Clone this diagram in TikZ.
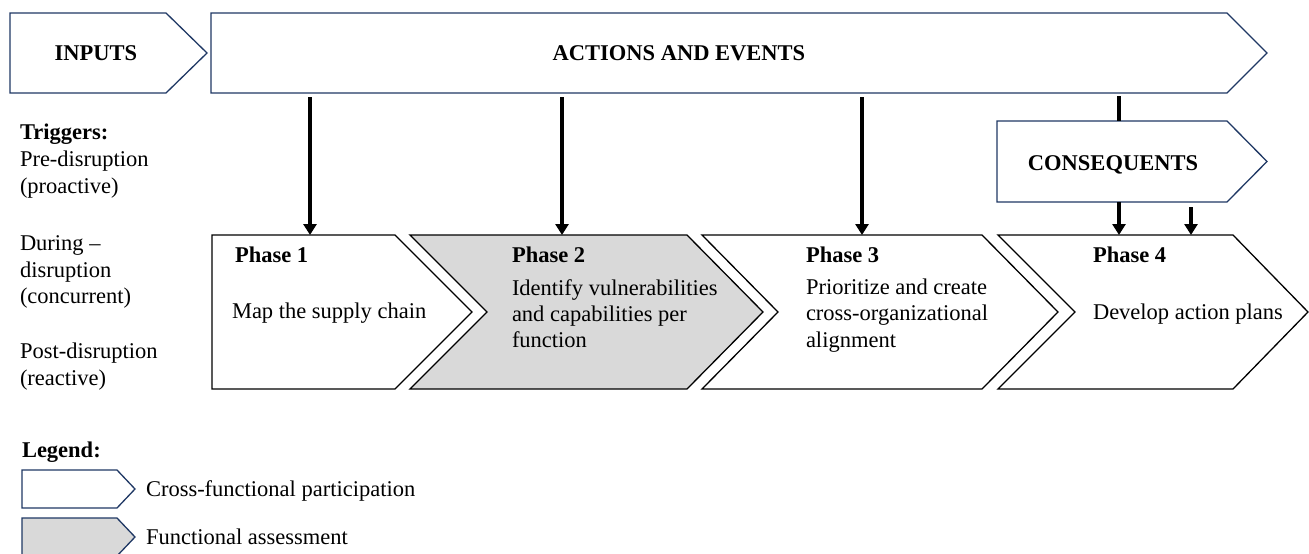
\documentclass[tikz,border=0pt]{standalone}
\usepackage{fontspec}
\setmainfont{Liberation Serif}
\usetikzlibrary{arrows.meta}
\definecolor{navy}{RGB}{31,56,100}
\definecolor{phgray}{RGB}{217,217,217}
\begin{document}
\begin{tikzpicture}[x=1pt,y=-1pt,
  every node/.style={font=\fontsize{22.5}{27}\selectfont, inner sep=0pt, outer sep=0pt},
  body/.style={draw=none, fill=none, rectangle},
  topline/.style={draw=navy, line width=1.3pt, fill=white, line join=miter},
  phline/.style={draw=black, line width=1.3pt, fill=white, line join=miter},
  grayfill/.style={fill=phgray},
  arr/.style={line width=3.6pt, -{Triangle[width=13pt,length=11pt]}},
  plain/.style={line width=3.6pt},
  lbl/.style={anchor=base west},
  ttl/.style={anchor=base west, font=\fontsize{22.5}{27}\selectfont\bfseries},
  head/.style={anchor=center, font=\fontsize{22.5}{27}\selectfont\bfseries}]
\useasboundingbox (0,0) rectangle (1309,554);
\fill[white] (0,0) rectangle (1309,554);

% ---------- top row ----------
\node[body, minimum width=156pt, minimum height=80pt] (inp) at (88,53) {};
\draw[topline] (inp.north west) -- (inp.north east) -- ([xshift=41pt]inp.east) -- (inp.south east) -- (inp.south west) -- cycle;
\node[body, minimum width=1016pt, minimum height=80pt] (acts) at (719,53) {};
\draw[topline] (acts.north west) -- (acts.north east) -- ([xshift=40pt]acts.east) -- (acts.south east) -- (acts.south west) -- cycle;
\node[body, minimum width=230pt, minimum height=81pt] (cons) at (1112,161.5) {};
\draw[topline] (cons.north west) -- (cons.north east) -- ([xshift=40pt]cons.east) -- (cons.south east) -- (cons.south west) -- cycle;

\node[head] (tinp) at (96,53) {INPUTS};
\node[head] (tacts) at (679,53) {ACTIONS AND EVENTS};
\node[head] (tcons) at (1113,165) {CONSEQUENTS};

% ---------- phases ----------
\node[body, minimum width=183pt, minimum height=154pt] (p1) at (303.5,312) {};
\draw[phline] (p1.north west) -- (p1.north east) -- ([xshift=77pt]p1.east) -- (p1.south east) -- (p1.south west) -- cycle;
\node[body, minimum width=277pt, minimum height=154pt] (p2) at (548.5,312) {};
\draw[phline, grayfill] (p2.north west) -- (p2.north east) -- ([xshift=76pt]p2.east) -- (p2.south east) -- (p2.south west) -- ([xshift=77pt]p2.west) -- cycle;
\node[body, minimum width=280pt, minimum height=154pt] (p3) at (842,312) {};
\draw[phline] (p3.north west) -- (p3.north east) -- ([xshift=76pt]p3.east) -- (p3.south east) -- (p3.south west) -- ([xshift=76pt]p3.west) -- cycle;
\node[body, minimum width=235pt, minimum height=154pt] (p4) at (1115.5,312) {};
\draw[phline] (p4.north west) -- (p4.north east) -- ([xshift=75pt]p4.east) -- (p4.south east) -- (p4.south west) -- ([xshift=77pt]p4.west) -- cycle;

\node[ttl] (p1t) at (235,262) {Phase 1};
\node[lbl] (p1a) at (232,318) {Map the supply chain};

\node[ttl] (p2t) at (512,262) {Phase 2};
\node[lbl] (p2a) at (512,295) {Identify vulnerabilities};
\node[lbl] (p2b) at (512,321) {and capabilities per};
\node[lbl] (p2c) at (512,347) {function};

\node[ttl] (p3t) at (806,262) {Phase 3};
\node[lbl] (p3a) at (806,294) {Prioritize and create};
\node[lbl] (p3b) at (806,320) {cross-organizational};
\node[lbl] (p3c) at (806,347) {alignment};

\node[ttl] (p4t) at (1093,262) {Phase 4};
\node[lbl] (p4a) at (1093,319) {Develop action plans};

% ---------- arrows ----------
\coordinate (x1) at (310,0);
\coordinate (x2) at (562,0);
\coordinate (x3) at (862,0);
\coordinate (x4) at (1119,0);
\coordinate (x5) at (1191,0);
\draw[arr] ([yshift=-4pt]acts.south -| x1) -- (p1.north -| x1);
\draw[arr] ([yshift=-4pt]acts.south -| x2) -- (p2.north -| x2);
\draw[arr] ([yshift=-4pt]acts.south -| x3) -- (p3.north -| x3);
\draw[plain] ([yshift=-3pt]acts.south -| x4) -- (cons.north -| x4);
\draw[arr] (cons.south -| x4) -- (p4.north -| x4);
\draw[arr] ([yshift=-5pt]cons.south -| x5) -- (p4.north -| x5);

% ---------- triggers ----------
\node[ttl] (trg) at (20,139) {Triggers:};
\node[lbl] (tr1) at (20,166) {Pre-disruption};
\node[lbl] (tr2) at (20,193) {(proactive)};
\node[lbl] (tr3) at (20,250) {During –};
\node[lbl] (tr4) at (20,277) {disruption};
\node[lbl] (tr5) at (20,303) {(concurrent)};
\node[lbl] (tr6) at (20,358) {Post-disruption};
\node[lbl] (tr7) at (20,385) {(reactive)};

% ---------- legend ----------
\node[ttl] (leg) at (22,457) {Legend:};
\node[body, minimum width=95pt, minimum height=38pt] (l1) at (69.5,489) {};
\draw[topline] (l1.north west) -- (l1.north east) -- ([xshift=18pt]l1.east) -- (l1.south east) -- (l1.south west) -- cycle;
\node[lbl] (l1t) at (146,496) {Cross-functional participation};
\node[body, minimum width=95pt, minimum height=38pt] (l2) at (69.5,537) {};
\draw[topline, grayfill] (l2.north west) -- (l2.north east) -- ([xshift=18pt]l2.east) -- (l2.south east) -- (l2.south west) -- cycle;
\node[lbl] (l2t) at (146,544) {Functional assessment};
\end{tikzpicture}
\end{document}
